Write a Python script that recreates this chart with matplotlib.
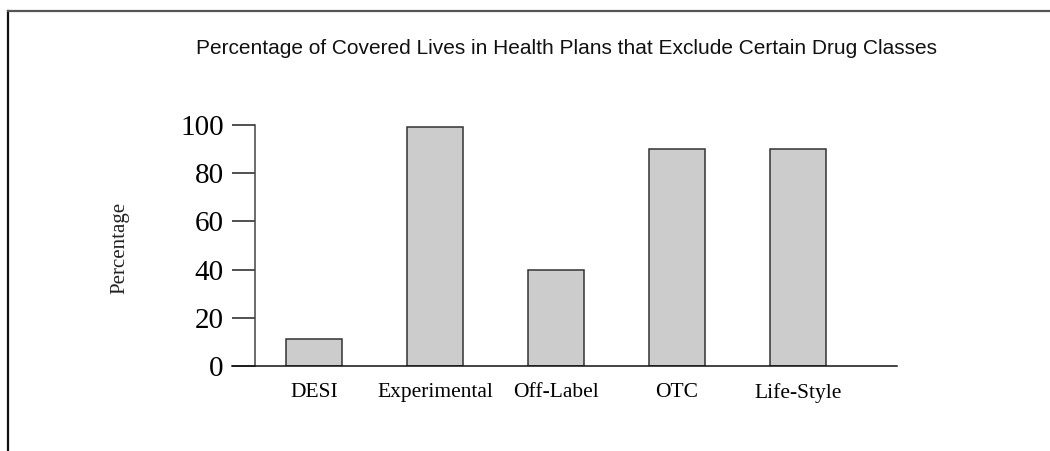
import matplotlib
matplotlib.use("Agg")
import matplotlib.pyplot as plt
from matplotlib.lines import Line2D
import numpy as np

categories = ["DESI", "Experimental", "Off-Label", "OTC", "Life-Style"]
values = [11, 99, 40, 90, 90]
y_ticks = [0, 20, 40, 60, 80, 100]
title = "Percentage of Covered Lives in Health Plans that Exclude Certain Drug Classes"
ylabel = "Percentage"

W, H = 1050, 451
fig = plt.figure(figsize=(W / 100, H / 100), dpi=100)
fig.patch.set_facecolor("white")

serif = ["Liberation Serif", "DejaVu Serif"]

ax = fig.add_axes([255 / W, 1 - 366 / H, (897 - 255) / W, (366 - 125) / H])
x = np.arange(len(categories))
ax.bar(x, values, width=0.463, color="#cccccc", edgecolor="#333333", linewidth=1.1, zorder=2)

ax.set_xlim(-0.488, len(categories) - 1 + 0.818)
ax.set_ylim(0, 100)
ax.set_yticks(y_ticks)
ax.set_yticklabels([str(t) for t in y_ticks], fontfamily=serif, fontsize=21)
ax.set_xticks(x)
ax.set_xticklabels(categories, fontfamily=serif, fontsize=15.5)
ax.tick_params(axis="y", direction="out", length=16.5, width=1.1, pad=6, color="#222222")
ax.tick_params(axis="x", length=0, pad=12)
for s in ["top", "right"]:
    ax.spines[s].set_visible(False)
ax.spines["left"].set_linewidth(1.1)
ax.spines["left"].set_color("#444444")
ax.spines["bottom"].set_linewidth(1.1)
ax.spines["bottom"].set_color("#111111")
ax.spines["bottom"].set_bounds(-0.488 - 23 / 121, len(categories) - 1 + 0.818)
ax.spines["bottom"].set_zorder(3)

fig.text(120 / W, 1 - 248 / H, ylabel, rotation=90, ha="center", va="center",
         fontfamily=serif, fontsize=15, color="#222222")

fig.text(566 / W, 1 - 49 / H, title, ha="center", va="center",
         fontfamily=["Liberation Sans", "DejaVu Sans"],
         fontsize=15, color="#111111")

# outer frame: left and top lines
fig.add_artist(Line2D([8 / W, 8 / W], [0, 1 - 10.5 / H], transform=fig.transFigure,
                      color="#111111", linewidth=1.6))
fig.add_artist(Line2D([8 / W, 1], [1 - 10.5 / H, 1 - 10.5 / H], transform=fig.transFigure,
                      color="#555555", linewidth=1.6))

fig.savefig("out.png", dpi=100)
